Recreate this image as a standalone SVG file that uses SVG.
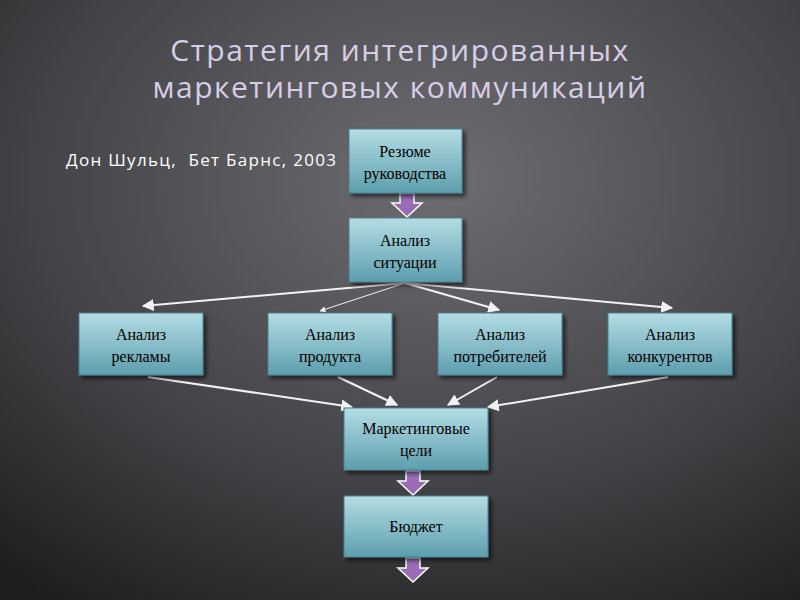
<svg xmlns="http://www.w3.org/2000/svg" width="800" height="600" viewBox="0 0 800 600">
<defs>
<radialGradient id="bg" cx="0.55" cy="0.3" r="0.85">
<stop offset="0" stop-color="#6e6e72"/><stop offset="0.6" stop-color="#434347"/><stop offset="1" stop-color="#1e1e20"/>
</radialGradient>
<linearGradient id="box" x1="0" y1="0" x2="0" y2="1">
<stop offset="0" stop-color="#b4dde4"/><stop offset="1" stop-color="#5d9eae"/>
</linearGradient>
<filter id="sh" x="-20%" y="-20%" width="150%" height="150%"><feDropShadow dx="3" dy="3" stdDeviation="2" flood-color="#000" flood-opacity="0.6"/></filter>
<marker id="ah" viewBox="0 0 10 10" refX="9" refY="5" markerWidth="6" markerHeight="6" orient="auto"><path d="M0,0L10,5L0,10z" fill="#f2f2f2"/></marker>
<path id="ba" d="M-7,0H7V10H15L0,24L-15,10H-7z" fill="#9a6cb6" stroke="#fff" stroke-width="1.5"/>
</defs>
<style>
.b{fill:url(#box);stroke:#4c8090;stroke-width:1;filter:url(#sh)}
.t{font-family:"Liberation Serif",serif;font-size:16px;fill:#000;text-anchor:middle}
.c{stroke:#f2f2f2;stroke-width:2;fill:none;marker-end:url(#ah)}
.thin{stroke-width:1}
</style>
<rect width="800" height="600" fill="url(#bg)"/>
<g font-family="'Open Sans','DejaVu Sans',sans-serif" font-size="30" fill="#d8cde6" text-anchor="middle" letter-spacing="1.5">
<text x="400" y="61">Стратегия интегрированных</text>
<text x="400" y="98">маркетинговых коммуникаций</text>
</g>
<text x="66" y="166" xml:space="preserve" font-family="'Open Sans','DejaVu Sans',sans-serif" font-size="17" fill="#fff" textLength="270">Дон Шульц,  Бет Барнс, 2003</text>
<g id="connectors">
<line class="c" x1="405" y1="283" x2="143" y2="306"/>
<line class="c thin" x1="405" y1="283" x2="320" y2="311"/>
<line class="c" x1="405" y1="283" x2="499" y2="310"/>
<line class="c" x1="405" y1="283" x2="672" y2="308"/>
<line class="c" x1="148" y1="377" x2="352" y2="407"/>
<line class="c" x1="338" y1="377" x2="397" y2="405"/>
<line class="c" x1="497" y1="377" x2="448" y2="405"/>
<line class="c" x1="668" y1="377" x2="488" y2="407"/>
<use href="#ba" x="407" y="193"/>
<use href="#ba" x="413" y="471"/>
<use href="#ba" x="413" y="558"/>
</g>
<g id="n1"><rect class="b" x="349" y="129" width="113" height="64"/><text class="t" x="405" y="157">Резюме</text><text class="t" x="405" y="179">руководства</text></g>
<g id="n2"><rect class="b" x="349" y="218" width="113" height="64"/><text class="t" x="405" y="246">Анализ</text><text class="t" x="405" y="268">ситуации</text></g>
<g id="n3"><rect class="b" x="79" y="313" width="124" height="62"/><text class="t" x="141" y="340">Анализ</text><text class="t" x="141" y="362">рекламы</text></g>
<g id="n4"><rect class="b" x="268" y="313" width="124" height="62"/><text class="t" x="330" y="340">Анализ</text><text class="t" x="330" y="362">продукта</text></g>
<g id="n5"><rect class="b" x="438" y="313" width="124" height="62"/><text class="t" x="500" y="340">Анализ</text><text class="t" x="500" y="362">потребителей</text></g>
<g id="n6"><rect class="b" x="608" y="313" width="124" height="62"/><text class="t" x="670" y="340">Анализ</text><text class="t" x="670" y="362">конкурентов</text></g>
<g id="n7"><rect class="b" x="344" y="408" width="144" height="62"/><text class="t" x="416" y="434">Маркетинговые</text><text class="t" x="416" y="456">цели</text></g>
<g id="n8"><rect class="b" x="344" y="496" width="144" height="61"/><text class="t" x="416" y="532">Бюджет</text></g>
</svg>
